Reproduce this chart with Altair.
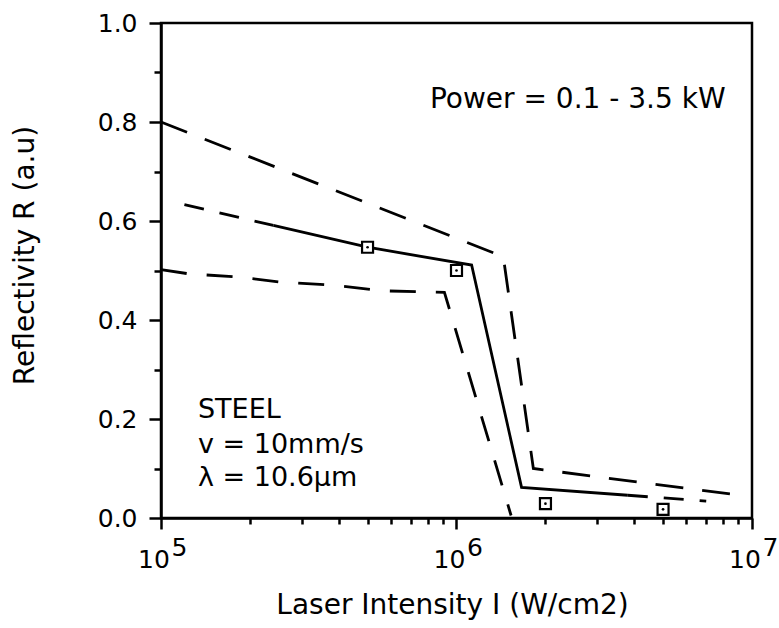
import altair as alt
import pandas as pd

# ---- data ----
upper_I = [1e5, 1.44e6, 1.82e6, 9.1e6]
upper_R = [0.80, 0.528, 0.100, 0.046]

lower_I = [1e5, 1.25e5, 1.82e5, 2.5e5, 3.86e5, 5.58e5, 9.1e5, 1.53e6]
lower_R = [0.502, 0.493, 0.487, 0.477, 0.470, 0.459, 0.456, 0.005]

mid_left_I = [1.2e5, 2.4e5]
mid_left_R = [0.633, 0.591]
mid_I = [2.4e5, 5e5, 1.125e6, 1.66e6, 3.8e6]
mid_R = [0.591, 0.547, 0.511, 0.062, 0.046]
mid_right_I = [3.8e6, 7e6]
mid_right_R = [0.046, 0.034]

meas_I = [5e5, 1e6, 2e6, 5e6]
meas_R = [0.547, 0.500, 0.029, 0.0175]

ann_text = ["Power = 0.1 - 3.5 kW", "STEEL", "v = 10mm/s", "\u03bb = 10.6\u03bcm"]
ann_I = [8.13e5, 1.334e5, 1.334e5, 1.334e5]
ann_R = [0.828, 0.202, 0.131, 0.0646]
ann_size = [28, 27, 27, 27]

x_major = [1e5, 1e6, 1e7]
x_minor = [2e5, 3e5, 4e5, 5e5, 6e5, 7e5, 8e5, 9e5,
           2e6, 3e6, 4e6, 5e6, 6e6, 7e6, 8e6, 9e6]
y_major = [0.0, 0.2, 0.4, 0.6, 0.8, 1.0]
y_minor = [0.1, 0.3, 0.5, 0.7, 0.9]

FONT = "DejaVu Sans"
LW = 2.8

def df(xs, ys):
    return pd.DataFrame({"I": xs, "R": ys})

xscale = alt.Scale(type="log", domain=[1e5, 1e7], nice=False)
yscale = alt.Scale(domain=[0, 1], nice=False)

# upper dashed line carries the major axes
upper = alt.Chart(df(upper_I, upper_R)).mark_line(
    color="black", strokeWidth=LW, strokeDash=[28, 19]
).encode(
    x=alt.X("I:Q", scale=xscale, axis=alt.Axis(
        orient="bottom", values=x_major, labelExpr="'10'", tickSize=11,
        tickWidth=2.5, domainWidth=2.5, domainColor="black", tickColor="black",
        labelFont=FONT, labelFontSize=25, labelColor="black", labelPadding=18,
        labelOffset=-7.5, labelFlush=False, labelOverlap=False, grid=False,
        title="Laser Intensity I (W/cm2)", titleFont=FONT, titleFontSize=28,
        titleFontWeight="normal", titleColor="black", titleX=291, titleY=87,
        titleBaseline="middle", titleAlign="center")),
    y=alt.Y("R:Q", scale=yscale, axis=alt.Axis(
        orient="left", values=y_major, format=".1f", tickSize=12,
        tickWidth=2.5, domainWidth=2.5, domainColor="black", tickColor="black",
        labelFont=FONT, labelFontSize=25, labelColor="black", labelPadding=12,
        labelFlush=False, labelOverlap=False, grid=False,
        title="Reflectivity R (a.u)", titleFont=FONT, titleFontSize=28,
        titleFontWeight="normal", titleColor="black", titleX=-136, titleY=232,
        titleBaseline="middle", titleAlign="center", titleAngle=270)),
    order="I:Q",
)

# lower dashed line carries the minor ticks
lower = alt.Chart(df(lower_I, lower_R)).mark_line(
    color="black", strokeWidth=LW, strokeDash=[26, 20]
).encode(
    x=alt.X("I:Q", scale=xscale, axis=alt.Axis(
        orient="bottom", values=x_minor, labels=False, tickSize=6,
        tickWidth=2.5, tickColor="black", domain=False, grid=False, title=None)),
    y=alt.Y("R:Q", scale=yscale, axis=alt.Axis(
        orient="left", values=y_minor, labels=False, tickSize=7,
        tickWidth=2.5, tickColor="black", domain=False, grid=False, title=None)),
    order="I:Q",
)

# left dashed part of middle curve carries the exponent labels
mid_left = alt.Chart(df(mid_left_I, mid_left_R)).mark_line(
    color="black", strokeWidth=LW, strokeDash=[20, 16]
).encode(
    x=alt.X("I:Q", scale=xscale, axis=alt.Axis(
        orient="bottom", values=x_major,
        labelExpr="'' + round(log(datum.value) / LN10)",
        ticks=False, domain=False, grid=False, title=None,
        labelFont=FONT, labelFontSize=25, labelColor="black", labelPadding=17,
        labelOffset=18, labelFlush=False, labelOverlap=False)),
    y=alt.Y("R:Q", scale=yscale, axis=None),
    order="I:Q",
)

mid = alt.Chart(df(mid_I, mid_R)).mark_line(
    color="black", strokeWidth=LW
).encode(
    x=alt.X("I:Q", scale=xscale, axis=None),
    y=alt.Y("R:Q", scale=yscale, axis=None),
    order="I:Q",
)

mid_right = alt.Chart(df(mid_right_I, mid_right_R)).mark_line(
    color="black", strokeWidth=LW, strokeDash=[20, 16]
).encode(
    x=alt.X("I:Q", scale=xscale, axis=None),
    y=alt.Y("R:Q", scale=yscale, axis=None),
    order="I:Q",
)

squares = alt.Chart(df(meas_I, meas_R)).mark_square(
    size=121, fill="white", stroke="black", strokeWidth=2.2, opacity=1
).encode(
    x=alt.X("I:Q", scale=xscale, axis=None),
    y=alt.Y("R:Q", scale=yscale, axis=None),
)

dots = alt.Chart(df(meas_I, meas_R)).mark_circle(
    size=7, color="black", opacity=1
).encode(
    x=alt.X("I:Q", scale=xscale, axis=None),
    y=alt.Y("R:Q", scale=yscale, axis=None),
)

ann = alt.Chart(pd.DataFrame({"I": ann_I, "R": ann_R, "t": ann_text, "s": ann_size})).mark_text(
    align="left", baseline="alphabetic", font=FONT, color="black"
).encode(
    x=alt.X("I:Q", scale=xscale, axis=None),
    y=alt.Y("R:Q", scale=yscale, axis=None),
    text="t:N",
    size=alt.Size("s:Q", scale=None, legend=None),
)

chart = alt.layer(
    upper, lower, mid_left, mid, mid_right, squares, dots, ann
).resolve_axis(x="independent", y="independent").properties(
    width=591, height=495,
    autosize=alt.AutoSizeParams(type="none"),
    padding={"left": 161, "top": 23, "right": 27, "bottom": 110},
    background="white",
).configure_view(stroke="black", strokeWidth=2.5)

chart.save("out.html", embed_options={"renderer": "svg", "actions": False})
